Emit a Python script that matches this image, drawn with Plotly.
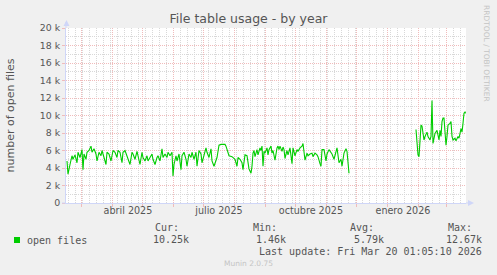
import plotly.graph_objects as go
import pandas as pd

# ---------------- data ----------------
start_time = "2025-02-13 01:05:10"
end_time = "2026-03-20 01:05:10"

# days since start_time, and open file counts (first segment)
seg1_day = [1, 2, 4, 6, 7, 9, 11, 12, 14, 16, 17, 18, 20, 21, 23, 25, 26, 28, 30, 31,
            33, 35, 36, 38, 40, 41, 43, 45, 47, 49, 51, 52, 54, 56, 57, 59, 61, 62, 64, 66,
            67, 69, 71, 72, 74, 76, 77, 79, 81, 82, 84, 86, 87, 89, 91, 92, 94, 96, 97, 99,
            101, 102, 104, 106, 107, 108, 110, 111, 113, 115, 116, 118, 120, 121, 123, 125, 126, 128, 130, 131,
            133, 135, 136, 138, 140, 141, 143, 145, 146, 148, 150, 151, 153, 155, 157, 159, 160, 162, 163, 166,
            167, 169, 171, 172, 174, 176, 177, 179, 181, 182, 183, 185, 186, 187, 188, 189, 190, 191, 192, 194,
            195, 196, 197, 198, 199, 201, 202, 203, 205, 206, 207, 209, 211, 212, 213, 214, 216, 217, 218, 219,
            221, 222, 224, 226, 227, 229, 231, 232, 234, 236, 237, 238, 239, 241, 242, 244, 246, 247, 249, 251,
            252, 254, 255, 256, 258, 260, 261, 263, 265, 266, 268, 270, 271, 273, 275, 276, 278, 280, 281, 283]
seg1_val = [4800, 3300, 4400, 5400, 5000, 5500, 4600, 5800, 5200, 6100, 3800, 5600, 5000, 5800, 6000, 6500, 5800, 6200, 5600, 4800,
            5800, 5400, 6000, 5200, 4400, 5800, 5600, 4800, 6000, 5800, 5200, 6000, 5800, 4600, 5800, 6000, 5400, 5200, 4400, 5800,
            5600, 5000, 5900, 5400, 4400, 5800, 5200, 4800, 5400, 4800, 5200, 5600, 5000, 4400, 5200, 5400, 4800, 6200, 5200, 5600,
            5200, 5800, 5400, 5800, 3100, 4400, 5400, 4800, 5600, 3800, 5400, 5800, 5000, 4200, 5600, 5200, 5800, 5000, 5800, 4200,
            6000, 5600, 4600, 5400, 6300, 5800, 5200, 6200, 4800, 4200, 5000, 5200, 6600, 6700, 6700, 6700, 6500, 5600, 5400, 5300,
            5200, 5000, 4200, 5200, 5000, 4600, 3800, 5500, 5400, 4400, 3900, 3400, 4200, 5700, 6000, 5300, 5700, 6100, 5500, 6300,
            6000, 6500, 4200, 5900, 5700, 6300, 5500, 6100, 6500, 5700, 6000, 4900, 6300, 6500, 6100, 6500, 5900, 6400, 6100, 5100,
            6000, 5500, 6300, 4500, 6300, 5400, 6100, 5900, 6300, 6500, 6800, 5500, 4900, 5700, 5400, 5600, 5700, 5300, 5700, 5500,
            5300, 4500, 4200, 6100, 6100, 4800, 5600, 6100, 5700, 5600, 5000, 6100, 6300, 4600, 5000, 4200, 5700, 6200, 5900, 3400]

# second segment (after the gap)
seg2_day = [350, 352, 353, 354, 355, 356, 358, 359, 361, 362, 364, 365, 366, 367, 369, 371, 372, 373, 374, 375,
            376, 377, 378, 380, 381, 382, 384, 385, 386, 387, 389, 390, 392, 393, 395, 396, 397, 398, 399, 399.6]
seg2_val = [8400, 5500, 5300, 7200, 8900, 8800, 7200, 7600, 8100, 7600, 7200, 7600, 11700, 6800, 7950, 8300, 7800, 7200, 8300, 7600,
            9300, 9700, 9700, 6600, 7600, 8900, 9100, 9300, 7600, 7200, 7400, 7100, 7600, 7400, 8500, 8100, 9100, 10250, 10400, 10250]

y_tick_vals = [0, 2000, 4000, 6000, 8000, 10000, 12000, 14000, 16000, 18000, 20000]
y_tick_text = ["0", "2 k", "4 k", "6 k", "8 k", "10 k", "12 k", "14 k", "16 k", "18 k", "20 k"]

x_label_dates = ["2025-04-16", "2025-07-16", "2025-10-16", "2026-01-16"]
x_label_text = ["abril 2025", "julio 2025", "octubre 2025", "enero 2026"]

series_name = "open files"
stat_names = ["Cur:", "Min:", "Avg:", "Max:"]
stat_values = ["10.25k", "1.46k", "5.79k", "12.67k"]
last_update = "Last update: Fri Mar 20 01:05:10 2026"

# ---------------- layout geometry ----------------
W, H = 497, 275
L, R, T, B = 66, 31, 28, 72
PW, PH = W - L - R, H - T - B


def px(x):
    return (x - L) / PW


def py(y):
    return (H - B - y) / PH


t0 = pd.Timestamp(start_time)


def to_dates(days):
    return [t0 + pd.Timedelta(days=d) for d in days]


xs = to_dates(seg1_day) + [None] + to_dates(seg2_day)
ys = seg1_val + [None] + seg2_val

MAJ = "#F0BBBB"
MIN = "#D8D8D8"
AXIS = "#CFD6F8"
FONT = "#555555"
DASH = "1px,1px"

fig = go.Figure()
fig.add_trace(go.Scatter(x=xs, y=ys, mode="lines", line=dict(color="#00CC00", width=1.1),
                         connectgaps=False, showlegend=False, hoverinfo="skip"))
fig.add_trace(go.Scatter(x=[t0, pd.Timestamp(end_time)], y=[None, None], xaxis="x2", mode="lines",
                         showlegend=False, hoverinfo="skip"))

fig.update_layout(
    width=W, height=H,
    margin=dict(l=L, r=R, t=T, b=B, pad=0),
    paper_bgcolor="#F0F0F0", plot_bgcolor="#FFFFFF",
    showlegend=False,
    title=dict(text="File table usage - by year", x=0.5, xref="container", xanchor="center",
               y=1 - 19 / H, yref="container", yanchor="middle",
               font=dict(family="DejaVu Sans", size=12.5, color=FONT)),
    xaxis=dict(type="date", range=[start_time, end_time], dtick="M1", tick0="2025-03-01",
               showticklabels=False, showgrid=True, gridcolor=MAJ, griddash=DASH, gridwidth=1,
               ticks="outside", ticklen=3, tickcolor=MAJ,
               minor=dict(dtick=7 * 86400000, tick0="2025-02-16", showgrid=True, gridcolor=MIN,
                          griddash=DASH, gridwidth=1),
               showline=True, linecolor=AXIS, linewidth=1, zeroline=False),
    xaxis2=dict(type="date", range=[start_time, end_time], overlaying="x", anchor="y", side="bottom",
                tickmode="array", tickvals=x_label_dates, ticktext=x_label_text,
                showgrid=False, showline=False, ticks="", zeroline=False,
                tickfont=dict(family="DejaVu Sans", size=9.6, color=FONT)),
    yaxis=dict(range=[0, 20000], tickmode="array", tickvals=y_tick_vals, ticktext=y_tick_text,
               showgrid=True, gridcolor=MAJ, griddash=DASH, gridwidth=1,
               minor=dict(dtick=1000, tick0=0, showgrid=True, gridcolor=MIN, griddash=DASH, gridwidth=1),
               ticks="outside", ticklen=3, tickcolor=MAJ,
               showline=True, linecolor=AXIS, linewidth=1, zeroline=False,
               tickfont=dict(family="DejaVu Sans", size=9.4, color=FONT)),
)

shapes = []
# axis extensions + arrows
shapes.append(dict(type="line", xref="paper", yref="paper", x0=px(L), x1=px(L), y0=py(T), y1=py(22),
                   line=dict(color=AXIS, width=1)))
shapes.append(dict(type="path", xref="paper", yref="paper",
                   path=f"M {px(63.5)},{py(26)} L {px(69.5)},{py(26)} L {px(66.5)},{py(20)} Z",
                   fillcolor=AXIS, line=dict(color=AXIS, width=0)))
shapes.append(dict(type="line", xref="paper", yref="paper", x0=px(62), x1=px(L), y0=py(203), y1=py(203),
                   line=dict(color=AXIS, width=1)))
shapes.append(dict(type="line", xref="paper", yref="paper", x0=px(466), x1=px(470), y0=py(203), y1=py(203),
                   line=dict(color=AXIS, width=1)))
shapes.append(dict(type="path", xref="paper", yref="paper",
                   path=f"M {px(468)},{py(200)} L {px(468)},{py(206)} L {px(474)},{py(203)} Z",
                   fillcolor=AXIS, line=dict(color=AXIS, width=0)))
# legend colour box
shapes.append(dict(type="rect", xref="paper", yref="paper", x0=px(14), x1=px(20), y0=py(243), y1=py(237),
                   fillcolor="#00CC00", line=dict(width=0)))
fig.update_layout(shapes=shapes)

mono = dict(family="DejaVu Sans Mono", size=10, color=FONT)
ann = []
ann.append(dict(text="number of open files", x=px(10), y=py(115.5), xref="paper", yref="paper",
                textangle=-90, showarrow=False, xanchor="center", yanchor="middle",
                font=dict(family="DejaVu Sans", size=11, color=FONT)))
ann.append(dict(text="RRDTOOL / TOBI OETIKER", x=px(487), y=py(53), xref="paper", yref="paper",
                textangle=90, showarrow=False, xanchor="center", yanchor="middle",
                font=dict(family="DejaVu Sans", size=7.5, color="#C4C4C4")))
ann.append(dict(text=series_name, x=px(25), y=py(240), xref="paper", yref="paper", showarrow=False,
                xanchor="left", yanchor="middle", font=mono))
head_x = [154, 251.7, 349.3, 446.7]
val_right = [189.5, 287, 385.2, 482.5]
for hx, name in zip(head_x, stat_names):
    ann.append(dict(text=name, x=px(hx - 1), y=py(227.5), xref="paper", yref="paper", showarrow=False,
                    xanchor="left", yanchor="middle", font=mono))
for vx, v in zip(val_right, stat_values):
    ann.append(dict(text=v, x=px(vx + 1), y=py(239.5), xref="paper", yref="paper", showarrow=False,
                    xanchor="right", yanchor="middle", font=mono))
ann.append(dict(text=last_update, x=px(483.5), y=py(251.7), xref="paper", yref="paper", showarrow=False,
                xanchor="right", yanchor="middle", font=mono))
ann.append(dict(text="Munin 2.0.75", x=px(248), y=py(263.7), xref="paper", yref="paper", showarrow=False,
                xanchor="center", yanchor="middle",
                font=dict(family="DejaVu Sans", size=7.5, color="#C4C4C4")))
fig.update_layout(annotations=ann)

fig.write_html("out.html")
